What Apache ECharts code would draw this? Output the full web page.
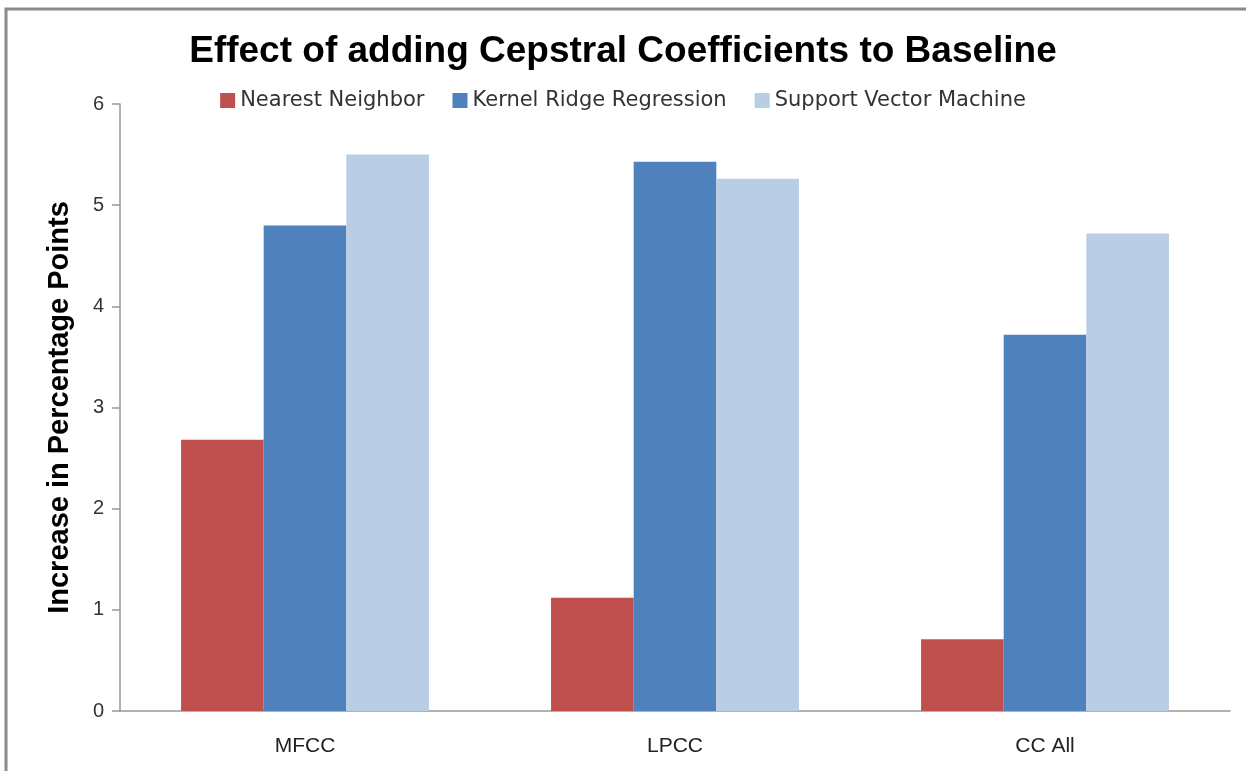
<!DOCTYPE html>
<html>
<head>
<meta charset="utf-8">
<script src="https://cdn.jsdelivr.net/npm/echarts@6/dist/echarts.min.js"></script>
<style>
  html, body { margin: 0; padding: 0; background: #fff; }
  #main { width: 1246px; height: 771px; }
</style>
</head>
<body>
<div id="main"></div>
<script>
// categories + series values
var categories = ['MFCC', 'LPCC', 'CC All'];
var nearestNeighbor = [2.68, 1.12, 0.71];
var kernelRidge = [4.80, 5.43, 3.72];
var svm = [5.50, 5.26, 4.72];
var yTicks = [0, 1, 2, 3, 4, 5, 6];

var chart = echarts.init(document.getElementById('main'));

var option = {
  backgroundColor: '#fff',
  animation: false,
  //外框
  graphic: [{
    type: 'rect',
    shape: { x: 6, y: 9, width: 1270, height: 800 },
    style: { fill: 'none', stroke: '#8a8a8a', lineWidth: 3 },
    silent: true
  }],
  title: {
    text: 'Effect of adding Cepstral Coefficients to Baseline',
    left: 'center',
    top: 28,
    textStyle: {
      fontFamily: 'Liberation Sans, Arial',
      fontWeight: 'bold',
      fontSize: 37,
      color: '#000'
    }
  },
  legend: {
    top: 85,
    left: 'center',
    itemWidth: 15,
    itemHeight: 15,
    itemGap: 28,
    icon: 'rect',
    textStyle: {
      fontFamily: 'DejaVu Sans, Liberation Sans',
      fontSize: 21,
      color: '#333'
    },
    data: ['Nearest Neighbor', 'Kernel Ridge Regression', 'Support Vector Machine']
  },
  grid: {
    left: 120,
    right: 16,
    top: 104,
    bottom: 60,
    containLabel: false
  },
  xAxis: {
    type: 'category',
    data: categories,
    axisLine: { lineStyle: { color: '#999', width: 1.5 } },
    axisTick: { show: false },
    axisLabel: {
      margin: 25,
      fontFamily: 'Liberation Sans Narrow, Liberation Sans',
      fontSize: 21,
      color: '#222'
    }
  },
  yAxis: {
    type: 'value',
    min: yTicks[0],
    max: yTicks[yTicks.length - 1],
    interval: 1,
    name: 'Increase in Percentage Points',
    nameLocation: 'middle',
    nameGap: 46,
    nameTextStyle: {
      fontFamily: 'Liberation Sans, Arial',
      fontWeight: 'bold',
      fontSize: 29,
      color: '#000'
    },
    axisLine: { show: true, lineStyle: { color: '#999', width: 1.5 } },
    axisTick: { show: true, length: 8, lineStyle: { color: '#999', width: 1.5 } },
    splitLine: { show: false },
    axisLabel: {
      margin: 16,
      fontFamily: 'Liberation Sans, Arial',
      fontSize: 20,
      color: '#333'
    }
  },
  series: [
    {
      name: 'Nearest Neighbor',
      type: 'bar',
      data: nearestNeighbor,
      barGap: '0%',
      barCategoryGap: '33%',
      itemStyle: { color: '#C0504D' }
    },
    {
      name: 'Kernel Ridge Regression',
      type: 'bar',
      data: kernelRidge,
      itemStyle: { color: '#4F81BD' }
    },
    {
      name: 'Support Vector Machine',
      type: 'bar',
      data: svm,
      itemStyle: { color: '#B9CDE5' }
    }
  ]
};

chart.setOption(option);
</script>
</body>
</html>
